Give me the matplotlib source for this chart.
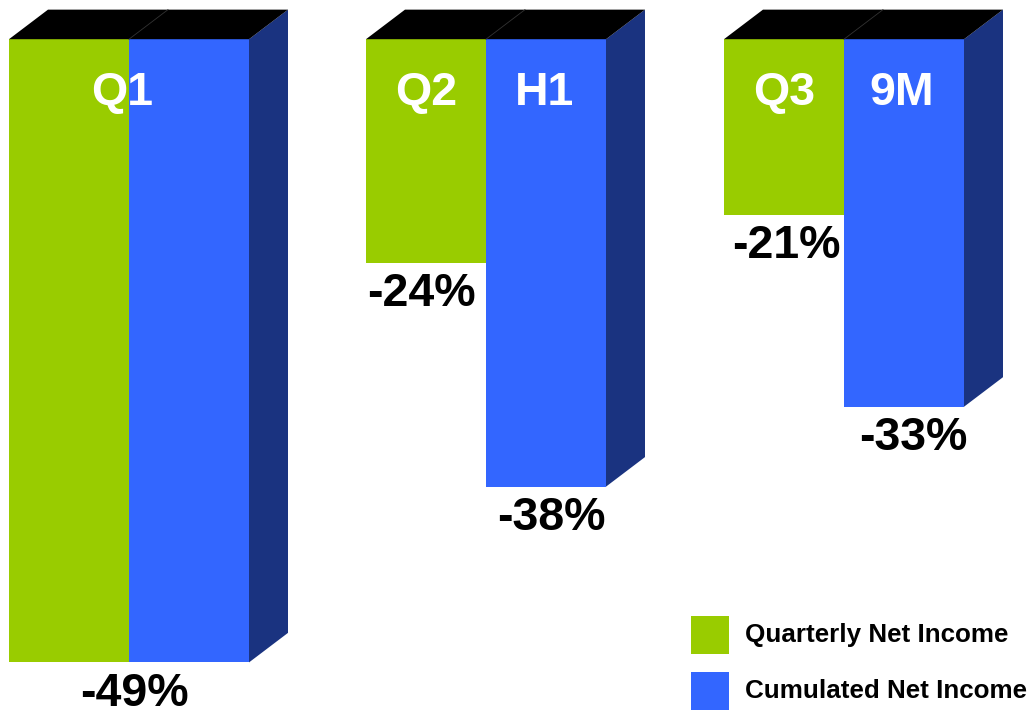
import matplotlib.pyplot as plt
from matplotlib.patches import Polygon, Rectangle

plt.rcParams['font.family'] = ['Liberation Sans', 'DejaVu Sans']

# net income change per period, in percent
quarter_labels = ['Q1', 'Q2', 'Q3']
cumul_labels = ['Q1', 'H1', '9M']
quarterly = [-49, -24, -21]
cumulated = [-49, -38, -33]
base = -10  # bars hang from this level

GREEN = '#99cc00'
BLUE = '#3366ff'
SIDE = '#1a3380'
TOP = '#000000'

W, H = 1029, 711
fig = plt.figure(figsize=(W / 100, H / 100), dpi=100)
ax = fig.add_axes([0, 0, 1, 1])
ax.set_xlim(0, W)
ax.set_ylim(-52.04, -7.547)
ax.axis('off')

bar_w = 120
lefts = [9, 366, 724]
dx, dy = 39, 1.85     # depth of the 3d box (x pixels, y percent)
lab_font = dict(fontsize=33.5, fontweight='bold', ha='center')
off = 2.7             # baseline offset of value labels below a bar
q_shift = [5, -5, 2]  # small horizontal nudges for the value labels
c_shift = [0, 5, 9]

for i, x0 in enumerate(lefts):
    q, c = quarterly[i], cumulated[i]
    ax.bar(x0, q - base, bottom=base, width=bar_w, align='edge', color=GREEN, lw=0)
    ax.bar(x0 + bar_w, c - base, bottom=base, width=bar_w, align='edge', color=BLUE, lw=0)
    xr = x0 + 2 * bar_w
    # side face of the cumulated bar
    ax.add_patch(Polygon([(xr, base), (xr + dx, base + dy), (xr + dx, c + dy), (xr, c)],
                         closed=True, color=SIDE, lw=0))
    # top face spanning both bars
    ax.add_patch(Polygon([(x0, base), (x0 + dx, base + dy), (xr + dx, base + dy), (xr, base)],
                         closed=True, color=TOP, lw=0))
    ax.plot([x0 + bar_w, x0 + bar_w + dx], [base, base + dy], color='#333333', lw=0.6)

    if i == 0:
        xm = x0 + bar_w
        ax.text(xm - 7, -14.1, quarter_labels[i], color='white', va='baseline', **lab_font)
        ax.text(xm + q_shift[i], q - off, f'{q}%', color='black', va='baseline', **lab_font)
    else:
        xq = x0 + bar_w / 2
        xc = x0 + 1.5 * bar_w
        ax.text(xq, -14.1, quarter_labels[i], color='white', va='baseline', **lab_font)
        ax.text(xc - 2, -14.1, cumul_labels[i], color='white', va='baseline', **lab_font)
        ax.text(xq + q_shift[i], q - off, f'{q}%', color='black', va='baseline', **lab_font)
        ax.text(xc + c_shift[i], c - off, f'{c}%', color='black', va='baseline', **lab_font)

# legend
legend = [('Quarterly Net Income', GREEN, 616), ('Cumulated Net Income', BLUE, 672)]
for text, col, ytop in legend:
    fig.add_artist(Rectangle((691 / W, 1 - (ytop + 38) / H), 38 / W, 38 / H,
                             transform=fig.transFigure, color=col, lw=0))
    fig.text(745 / W, 1 - (ytop + 19) / H, text, fontsize=18.7, fontweight='bold',
             va='center', ha='left')

fig.savefig('out.png', dpi=100)
